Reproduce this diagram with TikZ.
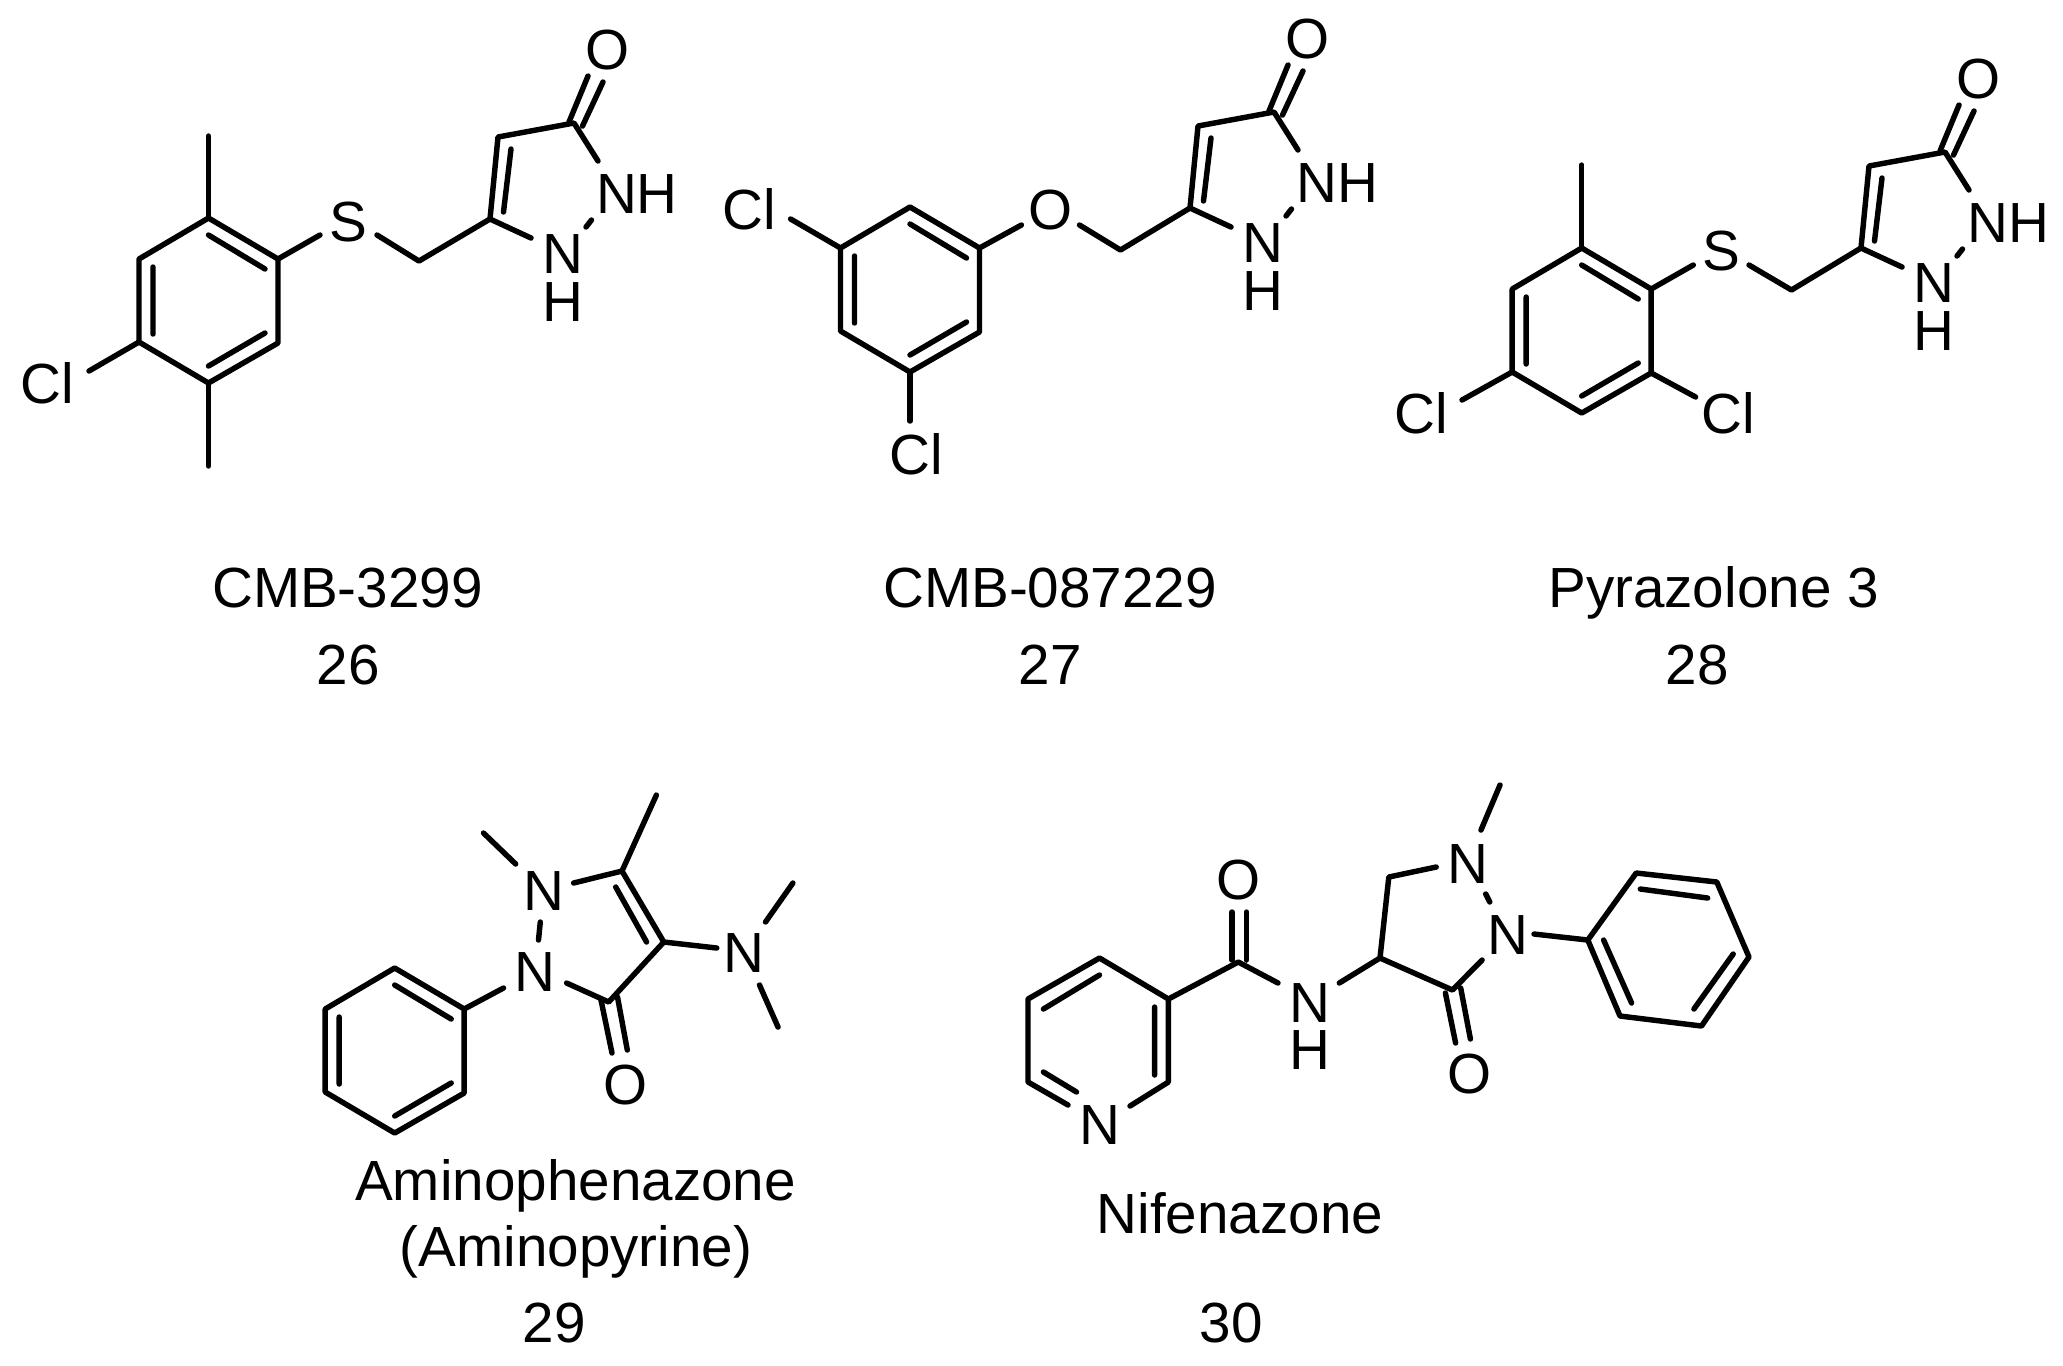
\documentclass[tikz,border=0pt]{standalone}
\usepackage{fontspec}
\setmainfont{Liberation Sans}
\tikzset{
  bond/.style={line width=1.55pt,line cap=round,line join=round},
  atom/.style={font=\fontsize{16.1}{19}\selectfont,inner sep=0pt,text height=11.5pt,text depth=0pt},
  caption/.style={atom}
}
\def\arylring[#1](#2)% Syntax: [name prefix] (top atom)
    { \begin{scope}[shift={(#2)},name prefix=#1]
        \coordinate (a) at (0,0); \coordinate (b) at (69.5,41); \coordinate (c) at (69.5,125);
        \coordinate (d) at (0,165); \coordinate (e) at (-69.5,124); \coordinate (f) at (-69.5,41);
        \coordinate (ab1) at (0,17); \coordinate (ab2) at (56.5,51);
        \coordinate (ef1) at (-55.5,49); \coordinate (ef2) at (-55.5,116);
        \coordinate (cd1) at (56.5,115); \coordinate (cd2) at (0,148);
        \draw[bond] (a) -- (b) -- (c) -- (d) -- (e) -- (f) -- cycle;
        \draw[bond] (ab1) -- (ab2) (ef1) -- (ef2) (cd1) -- (cd2);
      \end{scope} }
\def\pyrazolone[#1](#2)% Syntax: [name prefix] (ring carbon next to the CH2)
    { \begin{scope}[shift={(#2)},name prefix=#1]
        \coordinate (c5) at (0,0); \coordinate (c4) at (8,-82); \coordinate (c3) at (84,-96);
        \coordinate (in1) at (21,-70); \coordinate (in2) at (13.5,-7);
        \coordinate (co1) at (79,-97); \coordinate (co2) at (98,-143);
        \coordinate (co3) at (92.5,-93); \coordinate (co4) at (113,-137);
        \coordinate (nha) at (108,-58); \coordinate (nnb) at (41,19);
        \coordinate (nn1) at (101.5,1); \coordinate (nn2) at (96,8);
        \node[atom] (oxy) at (118,-170) {O};
        \node[atom] (nh) at (147,-26) {NH};
        \node[atom] (nlow) at (72.5,34) {N};
        \node[atom] (hlow) at (72.5,82) {H};
        \draw[bond] (nnb) -- (c5) -- (c4) -- (c3) -- (nha);
        \draw[bond] (in1) -- (in2);
        \draw[bond] (co1) -- (co2) (co3) -- (co4);
        \draw[bond] (nn1) -- (nn2);
      \end{scope} }

\begin{document}
\begin{tikzpicture}[x=0.01cm,y=-0.01cm]
   \useasboundingbox (0,0) rectangle (2063,1365);

   % 26
   \arylring[r26-](208.5,218)
   \pyrazolone[p26-](490,219)
   \coordinate (me26a) at (208.5,136);
   \coordinate (me26b) at (208.5,466);
   \coordinate (cl26e) at (89,371);
   \coordinate (s26a) at (320,235);
   \coordinate (s26b) at (377,235);
   \coordinate (ch26) at (419,261);
   \node[atom] (cl26) at (47,383) {Cl};
   \node[atom] (s26) at (348,221) {S};
   \draw[bond] (r26-a) -- (me26a);
   \draw[bond] (r26-d) -- (me26b);
   \draw[bond] (r26-e) -- (cl26e);
   \draw[bond] (r26-b) -- (s26a);
   \draw[bond] (s26b) -- (ch26) -- (p26-c5);
   \node[caption] (name26) at (347.5,587) {CMB-3299};
   \node[caption] (num26) at (348.3,664) {26};

   % 27
   \arylring[r27-](910,207)
   \pyrazolone[p27-](1190,208)
   \coordinate (cl27e) at (790.6,219);
   \coordinate (cl27g) at (910,421);
   \coordinate (o27a) at (1021.4,225);
   \coordinate (o27b) at (1079.5,225);
   \coordinate (ch27) at (1120.5,250);
   \node[atom] (cl27a) at (749,209) {Cl};
   \node[atom] (cl27b) at (916.5,454) {Cl};
   \node[atom] (o27) at (1050.5,209) {O};
   \draw[bond] (r27-f) -- (cl27e);
   \draw[bond] (r27-d) -- (cl27g);
   \draw[bond] (r27-b) -- (o27a);
   \draw[bond] (o27b) -- (ch27) -- (p27-c5);
   \node[caption] (name27) at (1050,587) {CMB-087229};
   \node[caption] (num27) at (1050.3,664) {27};

   % 28
   \arylring[r28-](1581.7,248)
   \pyrazolone[p28-](1861,248)
   \coordinate (me28) at (1581.7,165);
   \coordinate (cl28e) at (1462,400);
   \coordinate (cl28g) at (1695.6,397);
   \coordinate (s28a) at (1693.3,265);
   \coordinate (s28b) at (1749,265);
   \coordinate (ch28) at (1791.5,290);
   \node[atom] (cl28a) at (1421,413) {Cl};
   \node[atom] (cl28b) at (1728,413) {Cl};
   \node[atom] (s28) at (1721.5,250) {S};
   \draw[bond] (r28-a) -- (me28);
   \draw[bond] (r28-e) -- (cl28e);
   \draw[bond] (r28-c) -- (cl28g);
   \draw[bond] (r28-b) -- (s28a);
   \draw[bond] (s28b) -- (ch28) -- (p28-c5);
   \node[caption] (name28) at (1713.5,587) {Pyrazolone 3};
   \node[caption] (num28) at (1697.3,664) {28};

   % 29
   \arylring[r29-](394.7,968)
   \node[atom] (n29a) at (535,971) {N};
   \node[atom] (n29b) at (543.8,890) {N};
   \node[atom] (n29c) at (743.8,952) {N};
   \node[atom] (o29) at (626,1084) {O};
   \coordinate (ph29) at (503.5,988);
   \coordinate (nn29a) at (540.3,922);
   \coordinate (nn29b) at (538.5,940);
   \coordinate (me29a) at (483.5,833);
   \coordinate (me29b) at (515.7,864);
   \coordinate (nb29) at (573.6,883);
   \coordinate (c29a) at (622,871);
   \coordinate (me29c) at (656.4,795);
   \coordinate (c29b) at (663.8,942);
   \coordinate (in29a) at (615.7,887);
   \coordinate (in29b) at (646.6,942);
   \coordinate (nc29) at (716.8,948);
   \coordinate (me29d) at (765.5,922);
   \coordinate (me29e) at (792.9,883);
   \coordinate (me29f) at (759.5,985);
   \coordinate (me29g) at (778,1027);
   \coordinate (c29c) at (608.7,1002);
   \coordinate (na29) at (566.6,983);
   \coordinate (co29a) at (601,1000);
   \coordinate (co29b) at (612,1053);
   \coordinate (co29c) at (617.5,997);
   \coordinate (co29d) at (627.3,1050);
   \draw[bond] (r29-b) -- (ph29);
   \draw[bond] (nn29a) -- (nn29b);
   \draw[bond] (me29a) -- (me29b);
   \draw[bond] (nb29) -- (c29a) -- (c29b) -- (c29c) -- (na29);
   \draw[bond] (c29a) -- (me29c);
   \draw[bond] (in29a) -- (in29b);
   \draw[bond] (c29b) -- (nc29);
   \draw[bond] (me29d) -- (me29e);
   \draw[bond] (me29f) -- (me29g);
   \draw[bond] (co29a) -- (co29b) (co29c) -- (co29d);
   \node[caption] (name29a) at (575.5,1180) {Aminophenazone};
   \node[caption] (name29b) at (576,1246) {(Aminopyrine)};
   \node[caption] (num29) at (554.3,1322) {29};

   % 30
   \coordinate (py30a) at (1099.5,958);
   \coordinate (py30b) at (1168.4,999);
   \coordinate (py30c) at (1168.4,1082);
   \coordinate (py30d) at (1130,1106);
   \coordinate (py30e) at (1068,1105);
   \coordinate (py30f) at (1028,1082);
   \coordinate (py30g) at (1028,999);
   \coordinate (in30a) at (1099.5,975);
   \coordinate (in30b) at (1043.4,1009);
   \coordinate (in30c) at (1154.6,1007);
   \coordinate (in30d) at (1154.6,1075);
   \coordinate (in30e) at (1043.4,1072);
   \coordinate (in30f) at (1076.5,1092);
   \coordinate (ca30) at (1238.3,962);
   \coordinate (co30a) at (1232,912);
   \coordinate (co30b) at (1232,960);
   \coordinate (co30c) at (1246.4,912);
   \coordinate (co30d) at (1246.4,960);
   \coordinate (nh30a) at (1278,983);
   \coordinate (nh30b) at (1339.3,983);
   \coordinate (c30d) at (1380,958);
   \coordinate (c30e) at (1388.8,877);
   \coordinate (nu30) at (1436.2,867);
   \coordinate (me30a) at (1481,830);
   \coordinate (me30b) at (1500,785);
   \coordinate (nn30a) at (1485.7,894);
   \coordinate (nn30b) at (1489.8,902);
   \coordinate (c30c) at (1452.5,990);
   \coordinate (nl30) at (1482.1,960);
   \coordinate (cd30a) at (1445.4,993);
   \coordinate (cd30b) at (1455.6,1043);
   \coordinate (cd30c) at (1460.7,988);
   \coordinate (cd30d) at (1470.4,1039);
   \coordinate (ph30) at (1534,934);
   \coordinate (ph30a) at (1587.8,940);
   \coordinate (ph30b) at (1636.2,873);
   \coordinate (ph30c) at (1716.8,882);
   \coordinate (ph30d) at (1749,957);
   \coordinate (ph30e) at (1701.5,1026);
   \coordinate (ph30f) at (1620,1016);
   \coordinate (in30g) at (1640.3,889);
   \coordinate (in30h) at (1707.6,898);
   \coordinate (in30i) at (1733.2,954);
   \coordinate (in30j) at (1693.9,1009);
   \coordinate (in30k) at (1631.6,1003);
   \coordinate (in30l) at (1603.6,940);
   \node[atom] (n30py) at (1099.5,1124) {N};
   \node[atom] (o30a) at (1238.3,879) {O};
   \node[atom] (n30h) at (1309.7,1002) {N};
   \node[atom] (h30) at (1309.7,1049) {H};
   \node[atom] (n30u) at (1467.9,863) {N};
   \node[atom] (n30l) at (1507.6,934) {N};
   \node[atom] (o30b) at (1469.4,1073) {O};
   \draw[bond] (py30d) -- (py30c) -- (py30b) -- (py30a) -- (py30g) -- (py30f) -- (py30e);
   \draw[bond] (in30a) -- (in30b) (in30c) -- (in30d) (in30e) -- (in30f);
   \draw[bond] (py30b) -- (ca30) -- (nh30a);
   \draw[bond] (co30a) -- (co30b) (co30c) -- (co30d);
   \draw[bond] (nh30b) -- (c30d) -- (c30e) -- (nu30);
   \draw[bond] (me30a) -- (me30b);
   \draw[bond] (nn30a) -- (nn30b);
   \draw[bond] (c30d) -- (c30c) -- (nl30);
   \draw[bond] (cd30a) -- (cd30b) (cd30c) -- (cd30d);
   \draw[bond] (ph30) -- (ph30a);
   \draw[bond] (ph30a) -- (ph30b) -- (ph30c) -- (ph30d) -- (ph30e) -- (ph30f) -- cycle;
   \draw[bond] (in30g) -- (in30h) (in30i) -- (in30j) (in30k) -- (in30l);
   \node[caption] (name30) at (1240,1213) {Nifenazone};
   \node[caption] (num30) at (1231.3,1322) {30};
\end{tikzpicture}
\end{document}
